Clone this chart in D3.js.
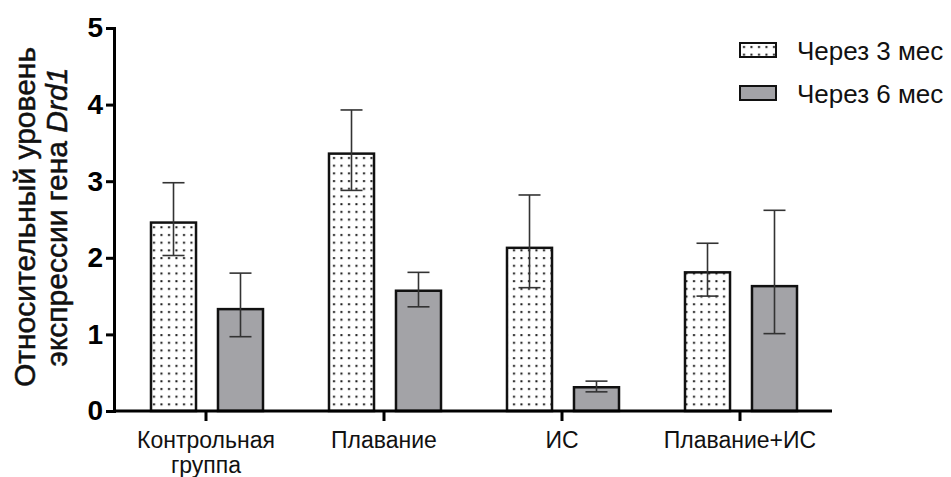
<!DOCTYPE html>
<html>
<head>
<meta charset="utf-8">
<script src="https://cdn.jsdelivr.net/npm/d3@7"></script>
<style>
  body { margin: 0; background: #fff; }
  svg { display: block; font-family: Arial, "Liberation Sans", sans-serif; }
</style>
</head>
<body>
<div class="chart"></div>
<script>
var width = 951,
    height = 477;

// data
var groups = ["Контрольная группа", "Плавание", "ИС", "Плавание+ИС"];
var series = ["Через 3 мес", "Через 6 мес"];
var m3 = [2.46, 3.36, 2.13, 1.81];
var m3Hi = [2.98, 3.93, 2.82, 2.19];
var m3Lo = [2.03, 2.88, 1.61, 1.50];
var m6 = [1.33, 1.57, 0.31, 1.63];
var m6Hi = [1.80, 1.81, 0.39, 2.62];
var m6Lo = [0.97, 1.36, 0.25, 1.01];
var yTicks = [0, 1, 2, 3, 4, 5];

var svg = d3.select(".chart").append("svg")
    .attr("width", width)
    .attr("height", height);

var defs = svg.append("defs");
var pat = defs.append("pattern")
    .attr("id", "dots")
    .attr("patternUnits", "userSpaceOnUse")
    .attr("width", 7.5)
    .attr("height", 7.7);
pat.append("rect").attr("width", 7.5).attr("height", 7.7).attr("fill", "#fff");
pat.append("rect").attr("x", 3).attr("y", 3).attr("width", 2).attr("height", 2).attr("fill", "#111");

var y = d3.scaleLinear().domain([0, 5]).range([411, 28]);
var x = d3.scaleBand().domain(groups).range([117, 829]);
var xs = d3.scaleBand().domain(series).range([34, 146]).paddingInner(0.328);

var fills = ["url(#dots)", "#a3a3a7"];

var rows = [];
groups.forEach(function(g, i) {
    rows.push({g: g, s: series[0], v: m3[i], hi: m3Hi[i], lo: m3Lo[i], k: 0});
    rows.push({g: g, s: series[1], v: m6[i], hi: m6Hi[i], lo: m6Lo[i], k: 1});
});

// bars
svg.selectAll("rect.bar")
    .data(rows)
    .enter().append("rect")
    .attr("class", "bar")
    .attr("x", function(d) { return x(d.g) + xs(d.s); })
    .attr("y", function(d) { return y(d.v); })
    .attr("width", xs.bandwidth())
    .attr("height", function(d) { return y(0) - y(d.v); })
    .attr("fill", function(d) { return fills[d.k]; })
    .attr("stroke", "#111")
    .attr("stroke-width", 2.5);

// error bars
var eb = svg.selectAll("g.err")
    .data(rows)
    .enter().append("g")
    .attr("class", "err")
    .attr("stroke", "#333")
    .attr("stroke-width", 1.6);
var cx = function(d) { return x(d.g) + xs(d.s) + xs.bandwidth() / 2; };
eb.append("line")
    .attr("x1", cx).attr("x2", cx)
    .attr("y1", function(d) { return y(d.hi); })
    .attr("y2", function(d) { return y(d.lo); });
eb.append("line")
    .attr("x1", function(d) { return cx(d) - 11; })
    .attr("x2", function(d) { return cx(d) + 11; })
    .attr("y1", function(d) { return y(d.hi); })
    .attr("y2", function(d) { return y(d.hi); });
eb.append("line")
    .attr("x1", function(d) { return cx(d) - 11; })
    .attr("x2", function(d) { return cx(d) + 11; })
    .attr("y1", function(d) { return y(d.lo); })
    .attr("y2", function(d) { return y(d.lo); });

// y axis
var yAxis = svg.append("g")
    .attr("transform", "translate(114,0)")
    .call(d3.axisLeft(y).tickValues(yTicks).tickSize(8).tickPadding(3).tickFormat(d3.format("d")));
yAxis.select(".domain").attr("stroke", "#000").attr("stroke-width", 3);
yAxis.selectAll(".tick line").attr("stroke", "#000").attr("stroke-width", 3);
yAxis.selectAll(".tick text")
    .attr("fill", "#000")
    .style("font-size", "28px")
    .style("font-weight", "bold")
    .style("font-family", "Arial, 'Liberation Sans', sans-serif");

// x axis
svg.append("line")
    .attr("x1", 113).attr("x2", 832)
    .attr("y1", y(0)).attr("y2", y(0))
    .attr("stroke", "#000").attr("stroke-width", 3);
svg.selectAll("line.xtick")
    .data(groups)
    .enter().append("line")
    .attr("class", "xtick")
    .attr("x1", function(d) { return x(d) + x.bandwidth() / 2; })
    .attr("x2", function(d) { return x(d) + x.bandwidth() / 2; })
    .attr("y1", y(0)).attr("y2", y(0) + 10)
    .attr("stroke", "#000").attr("stroke-width", 3);

var xl = svg.selectAll("text.xlab")
    .data(groups)
    .enter().append("text")
    .attr("class", "xlab")
    .attr("text-anchor", "middle")
    .attr("x", function(d) { return x(d) + x.bandwidth() / 2; })
    .attr("y", 448)
    .style("font-size", "23px")
    .attr("fill", "#111");
xl.each(function(d) {
    var words = d === "Контрольная группа" ? d.split(" ") : [d];
    var t = d3.select(this);
    words.forEach(function(w, i) {
        t.append("tspan")
            .attr("x", x(d) + x.bandwidth() / 2)
            .attr("dy", i === 0 ? 0 : 25)
            .text(w);
    });
});

// y label
var yl = svg.append("text")
    .attr("transform", "translate(35,217) rotate(-90)")
    .attr("text-anchor", "middle")
    .style("font-size", "30px")
    .attr("fill", "#111")
    .attr("stroke", "#111")
    .attr("stroke-width", 0.5);
yl.append("tspan").attr("x", 0).attr("dy", 0).text("Относительный уровень");
var l2 = yl.append("tspan").attr("x", 0).attr("dy", 32);
l2.append("tspan").text("экспрессии гена ");
yl.append("tspan").style("font-style", "italic").text("Drd1");

// legend
var lg = svg.selectAll("g.legend")
    .data(series)
    .enter().append("g")
    .attr("class", "legend")
    .attr("transform", function(d, i) { return "translate(740," + (43 + i * 43) + ")"; });
lg.append("rect")
    .attr("width", 36).attr("height", 14)
    .attr("fill", function(d, i) { return fills[i]; })
    .attr("stroke", "#111")
    .attr("stroke-width", 2);
lg.append("text")
    .attr("x", 57)
    .attr("y", 17)
    .style("font-size", "26px")
    .attr("fill", "#111")
    .text(function(d) { return d; });
</script>
</body>
</html>
